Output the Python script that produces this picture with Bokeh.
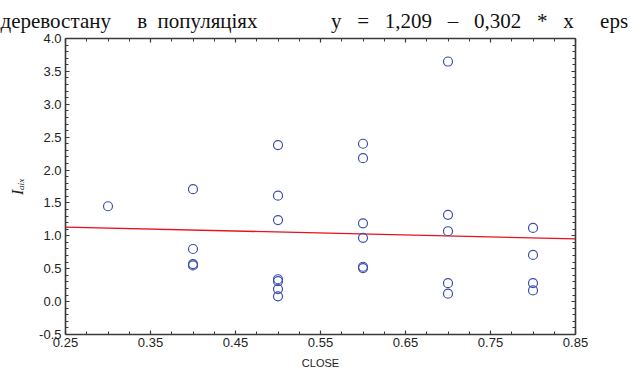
import numpy as np
from bokeh.plotting import figure
from bokeh.models import (Range1d, FixedTicker, LinearAxis, PrintfTickFormatter,
                          Title, ColumnDataSource)
from bokeh.embed import file_html
from bokeh.resources import INLINE

# ---- data ----
close = [0.3,
         0.4, 0.4, 0.4, 0.4,
         0.5, 0.5, 0.5, 0.5, 0.5, 0.5, 0.5,
         0.6, 0.6, 0.6, 0.6, 0.6, 0.6,
         0.7, 0.7, 0.7, 0.7, 0.7,
         0.8, 0.8, 0.8, 0.8]
iaux = [1.45,
        1.71, 0.80, 0.57, 0.55,
        2.38, 1.61, 1.24, 0.34, 0.31, 0.19, 0.08,
        2.40, 2.18, 1.19, 0.97, 0.53, 0.51,
        3.65, 1.32, 1.07, 0.28, 0.12,
        1.12, 0.71, 0.28, 0.17]
intercept = 1.209
slope = -0.302
x_ticks = [0.25, 0.35, 0.45, 0.55, 0.65, 0.75, 0.85]
y_ticks = [-0.5, 0.0, 0.5, 1.0, 1.5, 2.0, 2.5, 3.0, 3.5, 4.0]
x_label = "CLOSE"
y_label = "I\u2090\u1d62\u2093"
title_words = ["деревостану", "в", "популяціях"]
eq_parts = ["y", "=", "1,209", "–", "0,302", "*", "x"]
eq_tail = "eps"

X0, X1 = 0.25, 0.85
Y0, Y1 = -0.5, 4.0
W, H = 640, 372
BL, BT = 65, 38
FW, FH = 510, 296
BR = W - BL - FW
BB = H - BT - FH

NB = "\u00a0"
header = (title_words[0] + NB * 5 + title_words[1] + NB * 2 + title_words[2]
          + NB * 14 + (NB * 3).join(eq_parts) + NB * 5 + eq_tail)

p = figure(width=W, height=H, output_backend="svg", toolbar_location=None,
           x_range=Range1d(X0, X1), y_range=Range1d(Y0, Y1),
           min_border_left=BL, min_border_right=BR, min_border_top=BT,
           min_border_bottom=BB, x_axis_type=None, y_axis_type=None,
           title=Title(text=header, align="left", offset=-BL,
                       vertical_align="top",
                       text_font="Liberation Serif", text_font_size="21px",
                       text_font_style="normal", text_color="#111111",
                       standoff=8))
p.outline_line_color = None
p.background_fill_color = "white"
p.border_fill_color = "white"

xminor = list(np.round(np.arange(X0, X1 + 1e-9, 0.025), 4))
yminor = list(np.round(np.arange(Y0, Y1 + 1e-9, 0.1), 4))
xt = FixedTicker(ticks=x_ticks, minor_ticks=xminor)
yt = FixedTicker(ticks=y_ticks, minor_ticks=yminor)

AX_COL = "#3a3a3a"
def style(ax, labels):
    ax.axis_line_color = AX_COL
    ax.axis_line_width = 1.6
    ax.major_tick_in = 4
    ax.major_tick_out = 0
    ax.minor_tick_in = 3
    ax.minor_tick_out = 0
    ax.major_tick_line_color = AX_COL
    ax.minor_tick_line_color = AX_COL
    ax.major_tick_line_width = 1.2
    ax.minor_tick_line_width = 1.0
    if labels:
        ax.major_label_text_font = "Liberation Sans"
        ax.major_label_text_font_size = "13px"
        ax.major_label_text_color = "#222222"
    else:
        ax.major_label_text_font_size = "0px"
        ax.major_label_text_color = None
        ax.major_label_standoff = 0

bx = LinearAxis(ticker=xt, formatter=PrintfTickFormatter(format="%.2f"))
style(bx, True)
bx.major_label_standoff = 3
bx.axis_label = x_label
bx.axis_label_text_font = "Liberation Sans"
bx.axis_label_text_font_style = "normal"
bx.axis_label_text_font_size = "11px"
bx.axis_label_text_color = "#222222"
bx.axis_label_standoff = 7

ly = LinearAxis(ticker=yt, formatter=PrintfTickFormatter(format="%.1f"))
style(ly, True)
ly.major_label_standoff = 4
ly.axis_label = y_label
ly.axis_label_text_font = "Liberation Serif"
ly.axis_label_text_font_style = "italic"
ly.axis_label_text_font_size = "16px"
ly.axis_label_text_color = "#222222"
ly.axis_label_standoff = 10

tx = LinearAxis(ticker=xt)
style(tx, False)
ry = LinearAxis(ticker=yt)
style(ry, False)
p.add_layout(bx, "below")
p.add_layout(ly, "left")
p.add_layout(tx, "above")
p.add_layout(ry, "right")

p.xgrid.ticker = xt
p.ygrid.ticker = yt
for g in (p.xgrid, p.ygrid):
    g.grid_line_color = "#c4c4c4"
    g.grid_line_dash = "2 2"
    g.grid_line_width = 1

# regression line
lx = [X0, X1]
ly_vals = [intercept + slope * v for v in lx]
p.line(lx, ly_vals, line_color="#e8101c", line_width=1.3)

src = ColumnDataSource(dict(x=close, y=iaux))
p.scatter("x", "y", source=src, marker="circle", size=9, fill_color=None,
          line_color="#3c4fb0", line_width=1.2)

open("out.html", "w").write(file_html(p, INLINE))
